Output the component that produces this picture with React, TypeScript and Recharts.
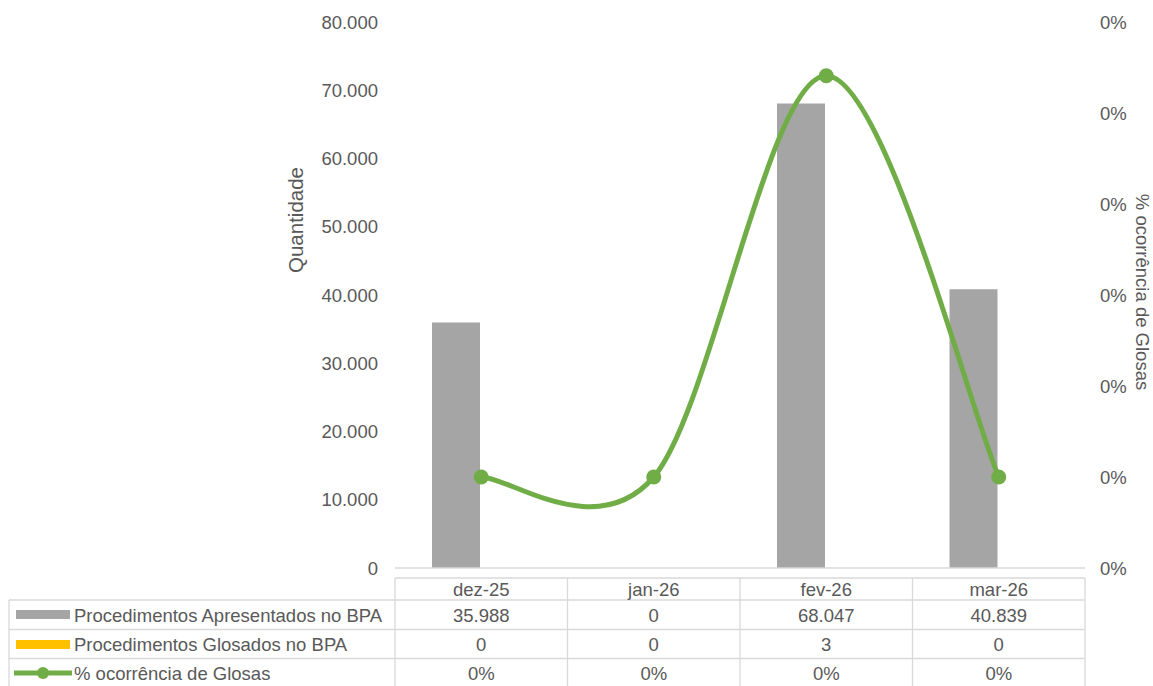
import {
  ComposedChart,
  Bar,
  Line,
  XAxis,
  YAxis,
} from "recharts";

const months = ["dez-25", "jan-26", "fev-26", "mar-26"];
const apresentados = [35988, 0, 68047, 40839];
const glosados = [0, 0, 3, 0];
const pctGlosas = [0, 0, 0.0000441, 0];

const leftTicks = [0, 10000, 20000, 30000, 40000, 50000, 60000, 70000, 80000];
const rightTicks = [-0.00001, 0, 0.00001, 0.00002, 0.00003, 0.00004, 0.00005];

const GRAY = "#A5A5A5";
const YELLOW = "#FFC000";
const GREEN = "#70AD47";
const TEXT = "#595959";
const GRID = "#D9D9D9";
const FONT = "'Liberation Sans', Arial, sans-serif";
const FS = 18.5;

const W = 1153;
const H = 686;
const PLOT_LEFT = 395;
const PLOT_RIGHT = 1085;
const X_AXIS_H = 118;

const data = months.map((m, i) => ({
  month: m,
  apresentados: apresentados[i],
  glosados: glosados[i],
  pct: pctGlosas[i],
}));

const fmtThousands = (v: number) =>
  String(Math.round(v)).replace(/\B(?=(\d{3})+(?!\d))/g, ".");
const fmtPct = (v: number) => `${Math.abs(Math.round(v * 100))}%`;

// Excel-like smoothed line (Catmull-Rom through the points)
const excelSmooth: any = (context: any) => {
  let pts: [number, number][] = [];
  return {
    areaStart() {},
    areaEnd() {},
    lineStart() {
      pts = [];
    },
    point(x: number, y: number) {
      pts.push([+x, +y]);
    },
    lineEnd() {
      if (!pts.length) return;
      context.moveTo(pts[0][0], pts[0][1]);
      for (let i = 0; i < pts.length - 1; i++) {
        const p0 = pts[i - 1] || pts[i];
        const p1 = pts[i];
        const p2 = pts[i + 1];
        const p3 = pts[i + 2] || p2;
        context.bezierCurveTo(
          p1[0] + (p2[0] - p0[0]) / 6,
          p1[1] + (p2[1] - p0[1]) / 6,
          p2[0] - (p3[0] - p1[0]) / 6,
          p2[1] - (p3[1] - p1[1]) / 6,
          p2[0],
          p2[1]
        );
      }
    },
  };
};

// each x-axis tick draws one column of the data table
function TableColumn(props: any) {
  const { x, y, payload, index } = props;
  const half = (PLOT_RIGHT - PLOT_LEFT) / months.length / 2;
  const left = x - half;
  const right = x + half;
  const rows = [y + 10, y + 32, y + 61.5, y + 90.5];
  const bottom = y + X_AXIS_H;
  const textProps = {
    textAnchor: "middle" as const,
    dominantBaseline: "central" as const,
    fill: TEXT,
    fontSize: FS,
    fontFamily: FONT,
  };
  return (
    <g>
      {rows.map((ry) => (
        <line key={ry} x1={left} x2={right} y1={ry} y2={ry} stroke={GRID} strokeWidth={1.3} />
      ))}
      <line x1={left} x2={left} y1={rows[0]} y2={bottom} stroke={GRID} strokeWidth={1.3} />
      {index === months.length - 1 && (
        <line x1={right} x2={right} y1={rows[0]} y2={bottom} stroke={GRID} strokeWidth={1.3} />
      )}
      <text x={x} y={y + 21} {...textProps}>{payload.value}</text>
      <text x={x} y={y + 47} {...textProps}>{fmtThousands(apresentados[index])}</text>
      <text x={x} y={y + 76} {...textProps}>{String(glosados[index])}</text>
      <text x={x} y={y + 105} {...textProps}>{fmtPct(pctGlosas[index])}</text>
    </g>
  );
}

function LegendColumn() {
  const textStyle = { fill: TEXT, fontSize: FS, fontFamily: FONT };
  return (
    <svg
      width={PLOT_LEFT + 1}
      height={H}
      style={{ position: "absolute", left: 0, top: 0, pointerEvents: "none" }}
    >
      {[600, 629.5, 658.5].map((ry) => (
        <line key={ry} x1={9} x2={PLOT_LEFT} y1={ry} y2={ry} stroke={GRID} strokeWidth={1.3} />
      ))}
      <line x1={9} x2={9} y1={600} y2={H} stroke={GRID} strokeWidth={1.3} />
      <rect x={16} y={610} width={54} height={9} fill={GRAY} />
      <text x={74} y={615} dominantBaseline="central" {...textStyle}>
        Procedimentos Apresentados no BPA
      </text>
      <rect x={16} y={640} width={54} height={9} fill={YELLOW} />
      <text x={74} y={644} dominantBaseline="central" {...textStyle}>
        Procedimentos Glosados no BPA
      </text>
      <line x1={14} x2={72} y1={673} y2={673} stroke={GREEN} strokeWidth={5} />
      <circle cx={43} cy={673} r={6} fill={GREEN} />
      <text x={74} y={673} dominantBaseline="central" {...textStyle}>
        % ocorrência de Glosas
      </text>
    </svg>
  );
}

export default function App() {
  const tickStyle = { fill: TEXT, fontSize: FS, fontFamily: FONT };
  return (
    <div
      style={{
        position: "absolute",
        left: 0,
        top: 0,
        width: W,
        height: H,
        background: "#fff",
        overflow: "hidden",
      }}
    >
      <ComposedChart
        width={W}
        height={H}
        data={data}
        margin={{ top: 22, right: 0, bottom: 0, left: 0 }}
        barSize={48}
        barGap={2}
      >
        <XAxis
          dataKey="month"
          height={X_AXIS_H}
          tickLine={false}
          tickSize={0}
          tickMargin={0}
          interval={0}
          axisLine={{ stroke: GRID, strokeWidth: 1.3 }}
          tick={<TableColumn />}
        />
        <YAxis
          yAxisId="left"
          width={PLOT_LEFT}
          domain={[0, 80000]}
          ticks={leftTicks}
          tickFormatter={fmtThousands}
          axisLine={false}
          tickLine={false}
          tickSize={0}
          tickMargin={17}
          tick={tickStyle}
          label={{
            content: () => (
              <text
                x={295}
                y={220}
                transform="rotate(-90 295 220)"
                textAnchor="middle"
                dominantBaseline="central"
                fill={TEXT}
                fontSize={20.5}
                fontFamily={FONT}
              >
                Quantidade
              </text>
            ),
          }}
        />
        <YAxis
          yAxisId="right"
          orientation="right"
          width={W - PLOT_RIGHT}
          domain={[-0.00001, 0.00005]}
          ticks={rightTicks}
          tickFormatter={fmtPct}
          axisLine={false}
          tickLine={false}
          tickSize={0}
          tickMargin={15}
          tick={tickStyle}
          label={{
            content: () => (
              <text
                x={1142}
                y={292}
                transform="rotate(90 1142 292)"
                textAnchor="middle"
                dominantBaseline="central"
                fill={TEXT}
                fontSize={FS}
                fontFamily={FONT}
              >
                % ocorrência de Glosas
              </text>
            ),
          }}
        />
        <Bar
          yAxisId="left"
          dataKey="apresentados"
          name="Procedimentos Apresentados no BPA"
          fill={GRAY}
          isAnimationActive={false}
        />
        <Bar
          yAxisId="left"
          dataKey="glosados"
          name="Procedimentos Glosados no BPA"
          fill={YELLOW}
          isAnimationActive={false}
        />
        <Line
          yAxisId="right"
          dataKey="pct"
          name="% ocorrência de Glosas"
          type={excelSmooth}
          stroke={GREEN}
          strokeWidth={5}
          dot={{ r: 7.5, fill: GREEN, stroke: "none" }}
          activeDot={false}
          isAnimationActive={false}
        />
      </ComposedChart>
      <LegendColumn />
    </div>
  );
}
